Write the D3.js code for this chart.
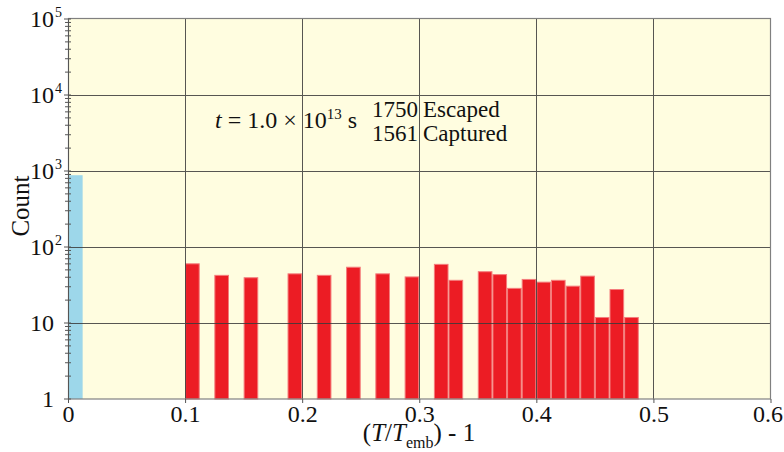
<!DOCTYPE html>
<html>
<head>
<meta charset="utf-8">
<script src="https://cdn.jsdelivr.net/npm/d3@7"></script>
<style>
  html, body { margin: 0; padding: 0; background: #ffffff; }
  svg { display: block; }
  text { font-family: "Liberation Serif", "DejaVu Serif", serif; fill: #111; }
</style>
</head>
<body>
<svg id="chart" width="784" height="452"></svg>
<script>
// ---- data ----
const binWidth = 0.0125;
const capturedBinStarts = [0];
const capturedCounts = [880];
const escapedBinStarts = [0.1, 0.125, 0.15, 0.1875, 0.2125, 0.2375, 0.2625, 0.2875, 0.3125, 0.325,
  0.35, 0.3625, 0.375, 0.3875, 0.4, 0.4125, 0.425, 0.4375, 0.45, 0.4625, 0.475];
const escapedCounts = [61, 43, 40, 45, 43, 55, 45, 41, 60, 37,
  48, 44, 29, 38, 35, 37, 31, 42, 12, 28, 12];
const xTicks = [0, 0.1, 0.2, 0.3, 0.4, 0.5, 0.6];
const xTickLabels = ["0", "0.1", "0.2", "0.3", "0.4", "0.5", "0.6"];
const yTicks = [1, 10, 100, 1000, 10000, 100000];
const yTickBase = ["1", "10", "10", "10", "10", "10"];
const yTickExp = ["", "", "2", "3", "4", "5"];
const annotationTime = { pre: "= 1.0 × 10", exp: "13", post: " s" };
const counts = [["1750", "Escaped"], ["1561", "Captured"]];

// ---- layout ----
const svg = d3.select("#chart");
const pL = 68, pR = 770.5, pT = 19, pB = 399;
const x = d3.scaleLinear().domain([0, 0.6]).range([pL, pR]);
const y = d3.scaleLog().domain([1, 1e5]).range([pB, pT]);

// background
svg.append("rect").attr("x", pL).attr("y", pT - 1).attr("width", pR - pL).attr("height", pB - pT + 1)
  .attr("fill", "#fffde0");

// bars
const bars = svg.append("g");
bars.selectAll("rect.cap").data(capturedBinStarts.map((s, i) => ({ s, c: capturedCounts[i] })))
  .enter().append("rect").attr("class", "cap")
  .attr("x", d => x(d.s)).attr("width", d => x(d.s + binWidth) - x(d.s))
  .attr("y", d => y(d.c)).attr("height", d => y(1) - y(d.c))
  .attr("fill", "#9dd7ea");
bars.selectAll("rect.esc").data(escapedBinStarts.map((s, i) => ({ s, c: escapedCounts[i] })))
  .enter().append("rect").attr("class", "esc")
  .attr("x", d => x(d.s) + 0.5).attr("width", d => x(d.s + binWidth) - x(d.s) - 1)
  .attr("y", d => y(d.c) + 0.5).attr("height", d => y(1) - y(d.c) - 0.5)
  .attr("fill", "#ec1c24").attr("stroke", "#f47c7c").attr("stroke-width", 1);

// grid
const grid = svg.append("g").attr("stroke", "#3a3a3a").attr("stroke-width", 1).attr("opacity", 0.85);
xTicks.filter(v => v > 0 && v < 0.6).forEach(v => {
  grid.append("line").attr("x1", Math.round(x(v)) + 0.5).attr("x2", Math.round(x(v)) + 0.5)
    .attr("y1", pT - 1).attr("y2", pB);
});
yTicks.filter(v => v > 1 && v < 1e5).forEach(v => {
  grid.append("line").attr("x1", pL).attr("x2", pR)
    .attr("y1", Math.round(y(v)) + 0.5).attr("y2", Math.round(y(v)) + 0.5);
});

// frame
svg.append("rect").attr("x", pL + 0.5).attr("y", pT - 0.5).attr("width", pR - pL - 0.5).attr("height", pB - pT + 0.5)
  .attr("fill", "none").attr("stroke", "#808080").attr("stroke-width", 1.2);

// y axis (log) with minor ticks
const yAxis = d3.axisLeft(y).tickValues([]).tickSizeOuter(0);
const yg = svg.append("g").attr("transform", `translate(${pL},0)`).call(yAxis);
yg.select(".domain").attr("stroke", "#555");
const minor = [];
for (let d = 0; d < 5; d++) for (let m = 2; m <= 9; m++) minor.push(m * Math.pow(10, d));
yg.selectAll("line.minor").data(minor).enter().append("line").attr("class", "minor")
  .attr("x1", -3).attr("x2", 3).attr("y1", d => y(d)).attr("y2", d => y(d))
  .attr("stroke", "#555").attr("stroke-width", 1);
yg.selectAll("line.major").data(yTicks).enter().append("line").attr("class", "major")
  .attr("x1", -4).attr("x2", 3).attr("y1", d => y(d)).attr("y2", d => y(d))
  .attr("stroke", "#555").attr("stroke-width", 1);

const ylab = svg.append("g");
yTicks.forEach((v, i) => {
  ylab.append("text").attr("x", 54).attr("y", y(v) + 8).attr("text-anchor", "end")
    .attr("font-size", 24).text(yTickBase[i]);
  if (yTickExp[i]) {
    ylab.append("text").attr("x", 55).attr("y", y(v) - 2).attr("font-size", 14).text(yTickExp[i]);
  }
});

// x axis
const xAxis = d3.axisBottom(x).tickValues(xTicks).tickFormat((d, i) => xTickLabels[i]).tickSize(4).tickSizeOuter(0);
const xg = svg.append("g").attr("transform", `translate(0,${pB})`).call(xAxis);
xg.select(".domain").remove();
xg.selectAll(".tick line").attr("stroke", "#555");
xg.selectAll(".tick text").attr("font-size", 24).attr("fill", "#111")
  .attr("font-family", '"Liberation Serif", serif').attr("dy", null).attr("y", 23)
  .attr("x", (d, i) => i === xTicks.length - 1 ? -3 : 0);

// axis titles
svg.append("text").attr("transform", "translate(29,206) rotate(-90)").attr("text-anchor", "middle")
  .attr("font-size", 25).text("Count");
const xt = svg.append("text").attr("x", 419).attr("y", 441).attr("text-anchor", "middle").attr("font-size", 25);
xt.append("tspan").text("(");
xt.append("tspan").attr("font-style", "italic").text("T");
xt.append("tspan").text("/");
xt.append("tspan").attr("font-style", "italic").text("T");
xt.append("tspan").attr("font-size", 16).attr("dy", 7).text("emb");
xt.append("tspan").attr("dy", -7).text(") - 1");

// annotations
const at = svg.append("text").attr("x", 215).attr("y", 128).attr("font-size", 24);
at.append("tspan").attr("font-style", "italic").text("t");
at.append("tspan").text(" " + annotationTime.pre);
at.append("tspan").attr("font-size", 15).attr("dy", -9).text(annotationTime.exp);
at.append("tspan").attr("dy", 9).text(annotationTime.post);

counts.forEach((c, i) => {
  svg.append("text").attr("x", 418).attr("y", 117 + i * 24).attr("text-anchor", "end").attr("font-size", 23).text(c[0]);
  svg.append("text").attr("x", 423).attr("y", 117 + i * 24).attr("font-size", 23).text(c[1]);
});
</script>
</body>
</html>
